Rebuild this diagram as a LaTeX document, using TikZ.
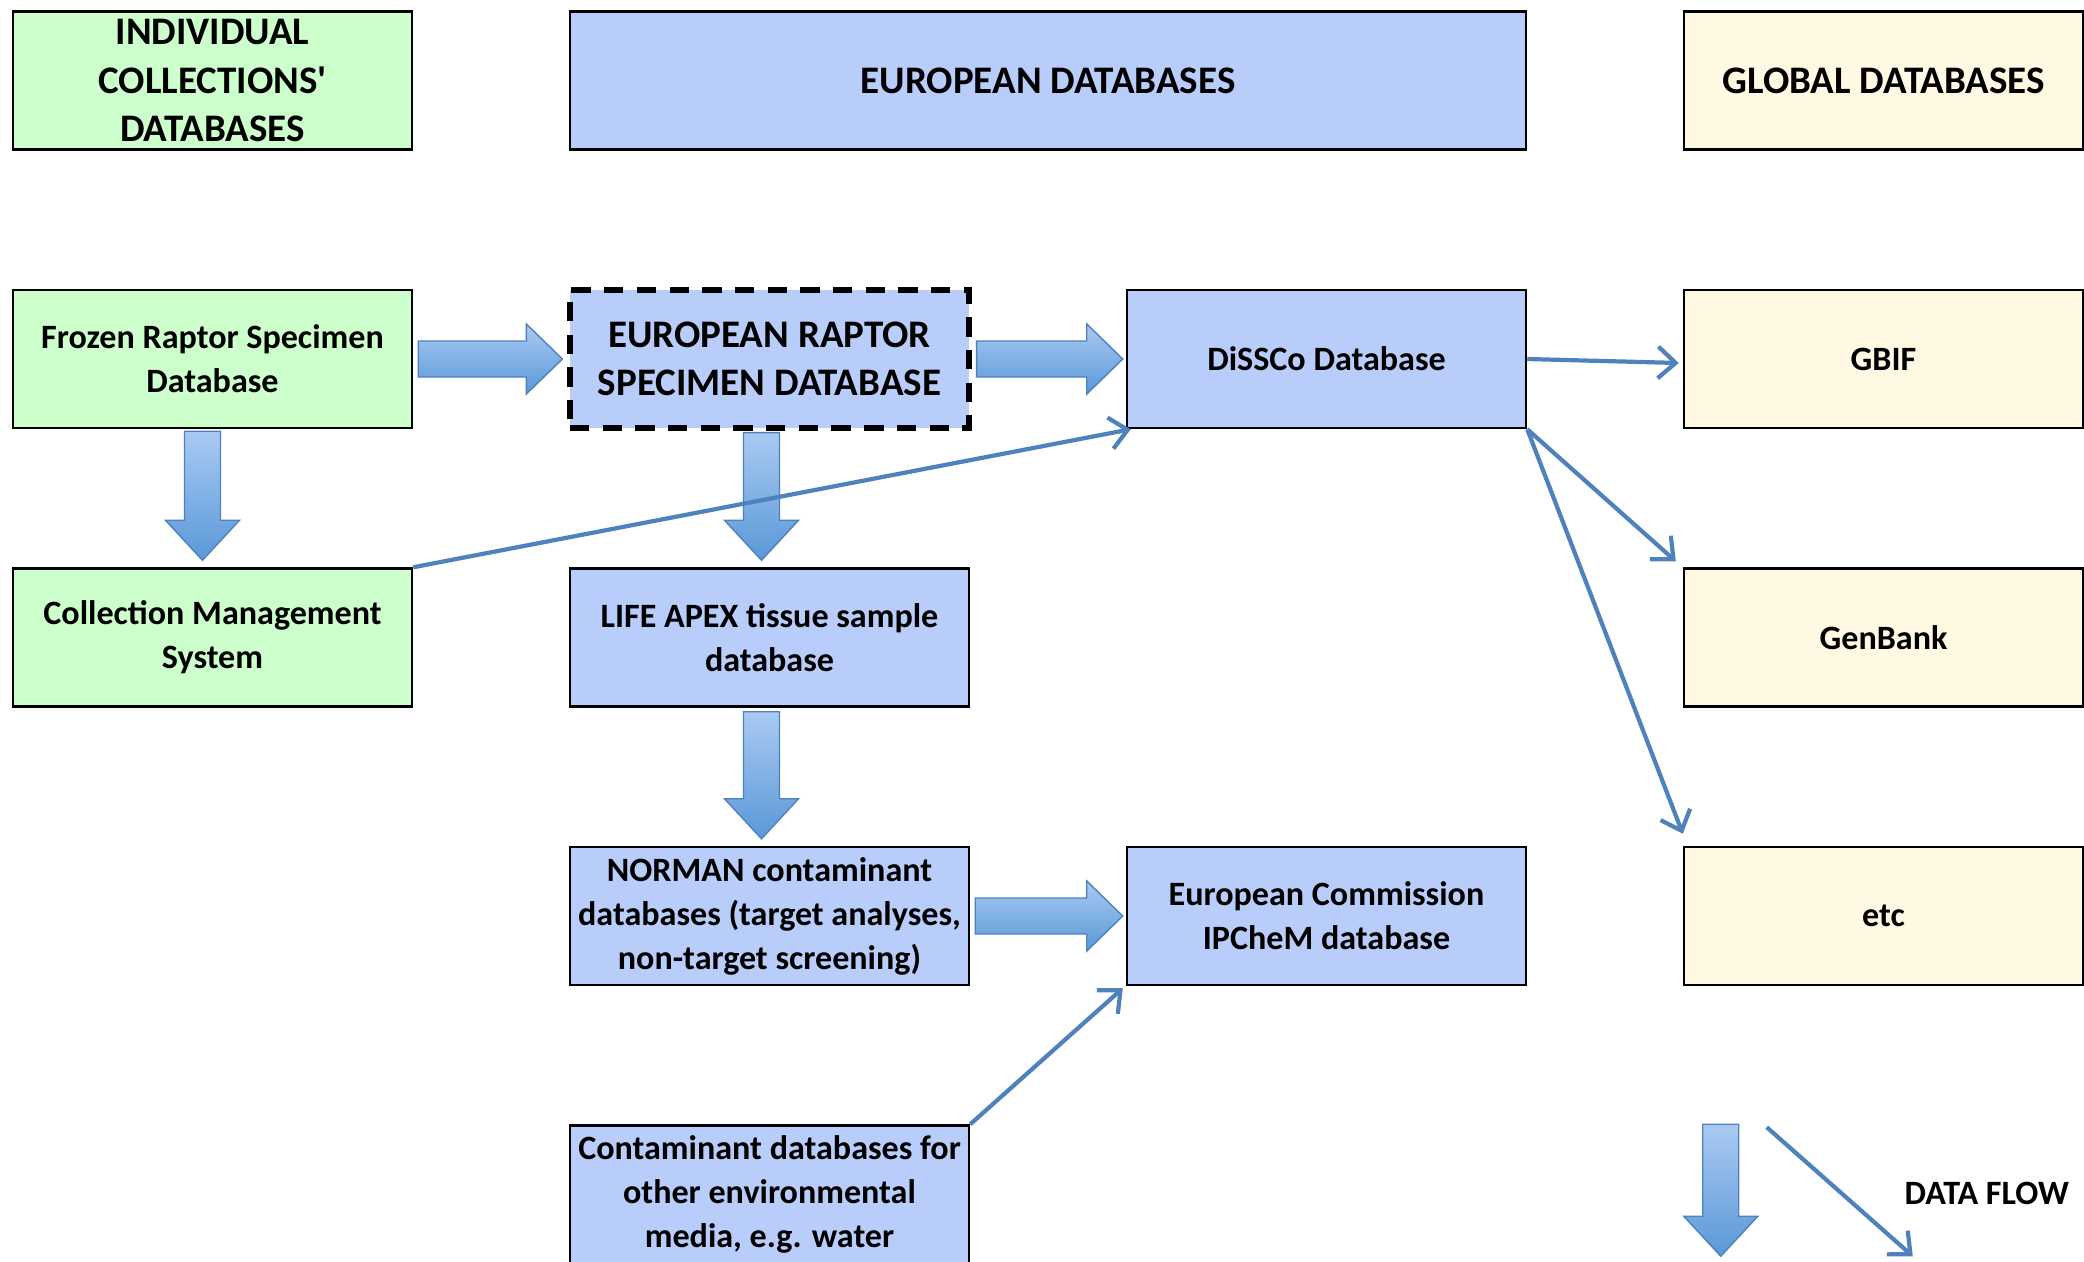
\documentclass[tikz,border=0pt]{standalone}
\usepackage{fontspec}
\setmainfont{Carlito}
\usetikzlibrary{positioning,calc,arrows.meta}

\definecolor{indivgreen}{HTML}{CCFFCC}
\definecolor{europblue}{HTML}{B9CDFA}
\definecolor{globalyellow}{HTML}{FFF8E2}
\definecolor{flowblue}{HTML}{4F81BD}
\definecolor{flowlight}{HTML}{A9CAF2}
\definecolor{flowdark}{HTML}{5A98D8}

\newcommand{\dbfont}{\fontsize{9.7}{12.5}\selectfont\bfseries}
\newcommand{\hdfont}{\fontsize{11.1}{13.8}\selectfont\bfseries}

\tikzset{
  db/.style={
    rectangle,
    draw=black, line width=0.7pt,
    minimum width=3.99cm, minimum height=1.38cm,
    inner xsep=2pt, inner ysep=0pt,
    text centered, align=center,
    font=\dbfont
  },
  indiv/.style={db, fill=indivgreen},
  europ/.style={db, fill=europblue},
  global/.style={db, fill=globalyellow},
  header/.style={font=\hdfont},
  flow/.style={draw=flowblue, line width=1.2pt, -{Straight Barb[length=5pt,width=9pt]}},
  bigflow/.style={draw=flowblue, line width=0.4pt, top color=flowlight, bottom color=flowdark},
}

% fat arrows between boxes
\newcommand{\hflow}[2]{%
  \path[bigflow] let \p1=#1, \p2=#2 in
    (\x1,\y1+0.18cm) -- (\x2-0.36cm,\y1+0.18cm) -- (\x2-0.36cm,\y1+0.35cm)
    -- (\x2,\y1) -- (\x2-0.36cm,\y1-0.35cm) -- (\x2-0.36cm,\y1-0.18cm)
    -- (\x1,\y1-0.18cm) -- cycle;}
\newcommand{\vflow}[2]{%
  \path[bigflow] let \p1=#1, \p2=#2 in
    (\x1-0.18cm,\y1) -- (\x1-0.18cm,\y2+0.40cm) -- (\x1-0.37cm,\y2+0.40cm)
    -- (\x1,\y2) -- (\x1+0.37cm,\y2+0.40cm) -- (\x1+0.18cm,\y2+0.40cm)
    -- (\x1+0.18cm,\y1) -- cycle;}

\begin{document}
\begin{tikzpicture}[node distance=2.785cm and 5.57cm, on grid]
  \useasboundingbox (0,0) rectangle (20.84,-12.61);

  % individual collections
  \node[indiv] (frozen) at (2.125,-3.59) {Frozen Raptor Specimen\\Database};
  \node[indiv, below=of frozen] (cms) {Collection Management\\System};

  % european level
  \node[europ, header, line width=1.5pt, dash pattern=on 5.5pt off 3.8pt, right=of frozen] (ersd)
    {EUROPEAN RAPTOR\\SPECIMEN DATABASE};
  \node[europ, below=of ersd] (lifeapex) {LIFE APEX tissue sample\\database};
  \node[europ, below=of lifeapex] (norman)
    {NORMAN contaminant\\databases (target analyses,\\non-target screening)};
  \node[europ, below=of norman] (contam)
    {Contaminant databases for\\other environmental\\media, e.g. water};
  \node[europ, right=of ersd] (dissco) {DiSSCo Database};
  \node[europ, right=of norman] (ec) {European Commission\\IPCheM database};

  % global level
  \node[global, right=of dissco] (gbif) {GBIF};
  \node[global, below=of gbif] (genbank) {GenBank};
  \node[global, below=of genbank] (etc) {etc};

  % column headers
  \node[indiv, header, above=of frozen] (hdindiv)
    {INDIVIDUAL\\COLLECTIONS\textquotesingle\\DATABASES};
  \node[europ, header, minimum width=9.56cm] (hdeuro)
    at ($(ersd)!0.5!(dissco)+(0,2.785)$) {EUROPEAN DATABASES};
  \node[global, header, above=of gbif] (hdglobal) {GLOBAL DATABASES};

  % fat arrows
  \hflow{([xshift=0.05cm]frozen.east)}{([xshift=-0.05cm]ersd.west)};
  \hflow{([xshift=0.05cm]ersd.east)}{([xshift=-0.03cm]dissco.west)};
  \hflow{([xshift=0.05cm]norman.east)}{([xshift=-0.03cm]ec.west)};
  \vflow{([xshift=-0.10cm,yshift=-0.02cm]frozen.south)}{([yshift=0.07cm]cms.north)};
  \vflow{([xshift=-0.08cm,yshift=-0.02cm]ersd.south)}{([yshift=0.07cm]lifeapex.north)};
  \vflow{([xshift=-0.08cm,yshift=-0.04cm]lifeapex.south)}{([yshift=0.07cm]norman.north)};

  % thin arrows
  \draw[flow] (cms.north east) -- ([xshift=0.05cm]dissco.south west);
  \draw[flow] (dissco.east) -- ([xshift=-0.04cm,yshift=-0.04cm]gbif.west);
  \draw[flow] (dissco.south east) -- ([xshift=-0.07cm,yshift=0.06cm]genbank.north west);
  \draw[flow] (dissco.south east) -- ([yshift=0.12cm]etc.north west);
  \draw[flow] (contam.north east) -- ([xshift=-0.03cm,yshift=-0.02cm]ec.south west);

  % legend
  \coordinate (legtop) at ([xshift=0.38cm,yshift=-1.38cm]etc.south west);
  \coordinate (legbot) at ([xshift=0.38cm,yshift=-2.70cm]etc.south west);
  \coordinate (legfrom) at ([xshift=0.84cm,yshift=-1.41cm]etc.south west);
  \coordinate (legto) at ([xshift=2.30cm,yshift=-2.70cm]etc.south west);
  \vflow{(legtop)}{(legbot)};
  \draw[flow] (legfrom) -- (legto);
  \node[font=\dbfont] (dataflow) at ([xshift=3.04cm,yshift=-2.07cm]etc.south west) {DATA FLOW};
\end{tikzpicture}
\end{document}
